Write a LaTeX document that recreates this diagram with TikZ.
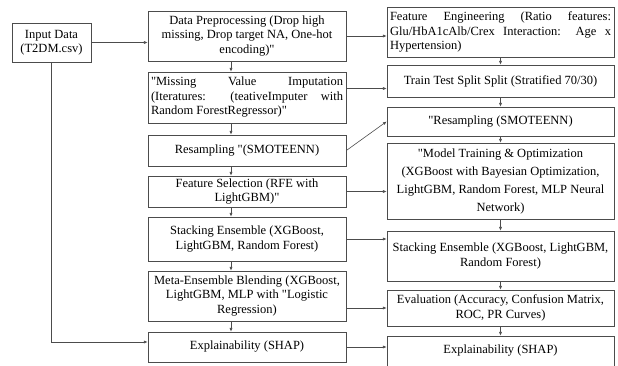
\documentclass[tikz,border=0pt]{standalone}
\usepackage{fontspec}
\setmainfont{Liberation Serif}[Ligatures=TeXOff]
\usetikzlibrary{positioning,arrows.meta,calc}

\begin{document}
\begin{tikzpicture}[
    x=1pt, y=-1pt,
    block/.style={draw=black!70, line width=0.7pt, rectangle, inner xsep=2pt, inner ysep=1pt, align=center, font=\fontsize{12.5}{14.5}\selectfont},
    midblock/.style={block, minimum width=198pt},
    rightblock/.style={block, minimum width=227pt},
    arrow/.style={-{Latex[length=1.3mm,width=1.1mm]}, line width=0.6pt, draw=black!70}
]
\useasboundingbox (0,0) rectangle (618,365);

% --- Entrada ---
\node[block, minimum width=79pt, minimum height=39pt] (input) at (51.5,42.5) {Input Data\\(T2DM.csv)};

% --- Columna central: preprocesado y ensamble ---
\node[midblock, minimum height=50pt] (prep) at (247,36) {Data Preprocessing (Drop high\\missing, Drop target NA, One-hot\\encoding)"};
\node[midblock, minimum height=51pt, text width=192pt, align=justify] (impute) at (247,97.5) {"Missing Value Imputation\linebreak (Iteratures: (teativeImputer with\linebreak Random ForestRegressor)"};
\node[midblock, minimum height=31pt] (resamp) at (247,150.5) {Resampling "(SMOTEENN)};
\node[midblock, minimum height=31pt] (select) at (247,191.5) {Feature Selection (RFE with\\LightGBM)"};
\node[midblock, minimum height=44pt] (stack) at (247,239) {Stacking Ensemble (XGBoost,\\LightGBM, Random Forest)};
\node[midblock, minimum height=50pt] (meta) at (247,296) {Meta-Ensemble Blending (XGBoost,\\LightGBM, MLP with "Logistic\\Regression)};
\node[midblock, minimum height=30pt] (explain) at (247,347) {Explainability (SHAP)};

% --- Columna derecha: entrenamiento y evaluacion ---
\node[rightblock, minimum height=50pt, text width=221pt, align=justify] (feateng) at (500.5,32) {Feature Engineering (Ratio features:\linebreak Glu/HbA1cAlb/Crex Interaction: Age x\linebreak Hypertension)};
\node[rightblock, minimum height=32pt] (split) at (500.5,81) {Train Test Split Split (Stratified 70/30)};
\node[rightblock, minimum height=29pt] (resamp2) at (500.5,121.5) {"Resampling (SMOTEENN)};
\node[rightblock, minimum height=76pt, font=\fontsize{12.5}{18}\selectfont] (train) at (500.5,181) {"Model Training \& Optimization\\(XGBoost with Bayesian Optimization,\\LightGBM, Random Forest, MLP Neural\\Network)};
\node[rightblock, minimum height=50pt] (stack2) at (500.5,256) {Stacking Ensemble (XGBoost, LightGBM,\\Random Forest)};
\node[rightblock, minimum height=36pt] (eval) at (500.5,308) {Evaluation (Accuracy, Confusion Matrix,\\ROC, PR Curves)};
\node[rightblock, minimum height=30pt] (explain2) at (500.5,351) {Explainability (SHAP)};

% --- Conexiones: entrada ---
\draw[arrow] (input.east) -- (input.east -| prep.west);
\draw[arrow] (input.south) |- ([yshift=5pt]explain.west);

% --- Conexiones: columna central ---
\draw[arrow] ([xshift=-16pt]prep.south) -- ([xshift=-16pt]impute.north);
\draw[arrow] ([xshift=-16pt]impute.south) -- ([xshift=-16pt]resamp.north);
\draw[arrow] ([xshift=-16pt]resamp.south) -- ([xshift=-16pt]select.north);
\draw[arrow] ([xshift=-16pt]select.south) -- ([xshift=-16pt]stack.north);
\draw[arrow] ([xshift=-16pt]stack.south) -- ([xshift=-16pt]meta.north);
\draw[arrow] ([xshift=-16pt]meta.south) -- ([xshift=-16pt]explain.north);

% --- Conexiones: columna derecha ---
\draw[arrow] (feateng) -- (split);
\draw[arrow] (split) -- (resamp2);
\draw[arrow] (resamp2) -- (train);
\draw[arrow] (train) -- (stack2);
\draw[arrow] (stack2) -- (eval);
\draw[arrow] (eval) -- (explain2);

% --- Conexiones: entre columnas ---
\draw[arrow] (prep.east) -- (prep.east -| feateng.west);
\draw[arrow] ([yshift=9pt]impute.east) -- ([yshift=9pt]impute.east -| split.west);
\draw[arrow] (resamp.east) -- (resamp2.west);
\draw[arrow] (select.east) -- (select.east -| train.west);
\draw[arrow] (stack.east) -- (stack.east -| stack2.west);
\draw[arrow] (eval.west -| meta.east) -- (eval.west);
\draw[arrow] (explain.east) -- (explain.east -| explain2.west);

\end{tikzpicture}
\end{document}
